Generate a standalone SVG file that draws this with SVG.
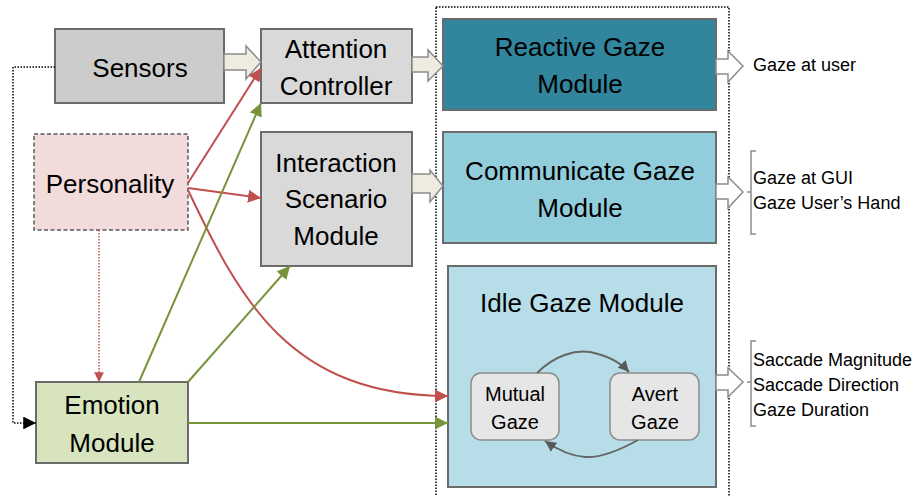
<svg xmlns="http://www.w3.org/2000/svg" width="922" height="496" viewBox="0 0 922 496">
  <defs>
    <style>
      text { font-family: "Liberation Sans", Arial, sans-serif; fill: #000; text-anchor: middle; }
      .big { font-size: 26px; }
      .small { font-size: 20px; }
      .out { font-size: 18px; text-anchor: start; }
      .box { stroke: #6b6b6b; stroke-width: 2; }
      .blk { fill: #eeece1; stroke: #8c8c8c; stroke-width: 1.5; }
      .blkw { fill: #ffffff; stroke: #8c8c8c; stroke-width: 1.5; }
      .red { fill: none; stroke: #c0504d; stroke-width: 2; }
      .green { fill: none; stroke: #77933c; stroke-width: 2; }
      .loop { fill: none; stroke: #666666; stroke-width: 2; }
      .brace { fill: none; stroke: #8c8c8c; stroke-width: 1.5; }
    </style>
    <marker id="ahRed" viewBox="0 0 10 10" refX="10" refY="5" markerWidth="6.5" markerHeight="6.5" orient="auto" markerUnits="strokeWidth">
      <path d="M0,0 L10,5 L0,10 z" fill="#c0504d"/>
    </marker>
    <marker id="ahGreen" viewBox="0 0 10 10" refX="10" refY="5" markerWidth="6.5" markerHeight="6.5" orient="auto" markerUnits="strokeWidth">
      <path d="M0,0 L10,5 L0,10 z" fill="#77933c"/>
    </marker>
    <marker id="ahGrey" viewBox="0 0 10 10" refX="10" refY="5" markerWidth="5.5" markerHeight="5.5" orient="auto" markerUnits="strokeWidth">
      <path d="M0,0 L10,5 L0,10 z" fill="#595959"/>
    </marker>
    <marker id="ahBlack" viewBox="0 0 10 10" refX="10" refY="5" markerWidth="8.5" markerHeight="8.5" orient="auto" markerUnits="strokeWidth">
      <path d="M0,0 L10,5 L0,10 z" fill="#000000"/>
    </marker>
  </defs>

  <rect width="922" height="496" fill="#ffffff"/>

  <!-- dotted frame around the gaze modules -->
  <rect id="gaze-frame" x="436" y="7" width="293" height="500" fill="none" stroke="#000" stroke-width="1.5" stroke-dasharray="1.5 1.5"/>

  <!-- nodes -->
  <g id="sensors">
    <rect class="box" x="55" y="29" width="169" height="74" fill="#cccccc"/>
    <text class="big" x="140" y="77">Sensors</text>
  </g>
  <g id="attention-controller">
    <rect class="box" x="261" y="29" width="151" height="74" fill="#d9d9d9"/>
    <text class="big" x="336" y="58">Attention</text>
    <text class="big" x="336" y="95">Controller</text>
  </g>
  <g id="personality">
    <rect x="34" y="134" width="154" height="96" fill="#f2dcdb" stroke="#595959" stroke-width="1.5" stroke-dasharray="4 2.5"/>
    <text class="big" x="110" y="193">Personality</text>
  </g>
  <g id="interaction-scenario">
    <rect class="box" x="261" y="132" width="151" height="134" fill="#d9d9d9"/>
    <text class="big" x="336" y="172">Interaction</text>
    <text class="big" x="336" y="208">Scenario</text>
    <text class="big" x="336" y="245">Module</text>
  </g>
  <g id="emotion-module">
    <rect class="box" x="36" y="382" width="152" height="81" fill="#d7e4bd"/>
    <text class="big" x="112" y="414">Emotion</text>
    <text class="big" x="112" y="452">Module</text>
  </g>
  <g id="reactive-gaze">
    <rect class="box" x="443" y="19" width="273" height="91" fill="#31859c"/>
    <text class="big" x="580" y="56">Reactive Gaze</text>
    <text class="big" x="580" y="93">Module</text>
  </g>
  <g id="communicate-gaze">
    <rect class="box" x="443" y="132" width="273" height="111" fill="#92cddc"/>
    <text class="big" x="580" y="180">Communicate Gaze</text>
    <text class="big" x="580" y="217">Module</text>
  </g>
  <g id="idle-gaze">
    <rect class="box" x="448" y="266" width="268" height="221" fill="#b7dee8"/>
    <text class="big" x="582" y="312">Idle Gaze Module</text>
  </g>
  <g id="mutual-gaze">
    <rect x="471" y="373" width="88" height="67" rx="10" fill="#e6e6e6" stroke="#8c8c8c" stroke-width="1.5"/>
    <text class="small" x="515" y="401">Mutual</text>
    <text class="small" x="515" y="429">Gaze</text>
  </g>
  <g id="avert-gaze">
    <rect x="610" y="373" width="89" height="67" rx="10" fill="#e6e6e6" stroke="#8c8c8c" stroke-width="1.5"/>
    <text class="small" x="655" y="401">Avert</text>
    <text class="small" x="655" y="429">Gaze</text>
  </g>

  <!-- outputs -->
  <g id="output-reactive">
    <text class="out" x="753" y="71">Gaze at user</text>
  </g>
  <g id="output-communicate">
    <path class="brace" d="M756,151 H751 V234 H756 M751,192 H747"/>
    <text class="out" x="753" y="184">Gaze at GUI</text>
    <text class="out" x="753" y="209">Gaze User’s Hand</text>
  </g>
  <g id="output-idle">
    <path class="brace" d="M756,341 H751 V426 H756 M751,382 H747"/>
    <text class="out" x="753" y="366">Saccade Magnitude</text>
    <text class="out" x="753" y="391">Saccade Direction</text>
    <text class="out" x="753" y="416">Gaze Duration</text>
  </g>

  <!-- connectors -->
  <g id="connectors">
    <!-- block arrows -->
    <path class="blk" d="M224,54 H246 V46 L261,62 L246,79 V70 H224 Z"/>
    <path class="blk" d="M412,57 H428 V50 L443,66 L428,81 V72 H412 Z"/>
    <path class="blk" d="M412,174 H430 V170 L443,186 L430,202 V193 H412 Z"/>
    <path class="blkw" d="M716,59 H728 V51 L743,66 L728,82 V74 H716 Z"/>
    <path class="blkw" d="M716,184 H728 V177 L743,192 L728,208 V199 H716 Z"/>
    <path class="blkw" d="M716,375 H728 V368 L743,382 L728,397 V390 H716 Z"/>

    <!-- sensors to emotion (dotted) -->
    <path d="M55,67 H13 V423 H36" fill="none" stroke="#000" stroke-width="1.5" stroke-dasharray="1.5 1.5" marker-end="url(#ahBlack)"/>

    <!-- personality influences -->
    <path d="M99,230 V382" fill="none" stroke="#c0504d" stroke-width="1.5" stroke-dasharray="1.5 1.5" marker-end="url(#ahRed)"/>
    <path class="red" d="M188,183 L261,68" marker-end="url(#ahRed)"/>
    <path class="red" d="M188,188 L261,198" marker-end="url(#ahRed)"/>
    <path class="red" d="M188,190 C240,300 290,396 448,396" marker-end="url(#ahRed)"/>

    <!-- emotion influences -->
    <path class="green" d="M139,382 Q195,255 261,103" marker-end="url(#ahGreen)"/>
    <path class="green" d="M188,382 L290,266" marker-end="url(#ahGreen)"/>
    <path class="green" d="M188,423 H448" marker-end="url(#ahGreen)"/>

    <!-- idle gaze transitions -->
    <path class="loop" d="M537,373 C555,355 575,350 590,352 C605,355 620,362 629,372" marker-end="url(#ahGrey)"/>
    <path class="loop" d="M638,440 C620,450 600,458 585,457 C570,456 558,450 545,441" marker-end="url(#ahGrey)"/>
  </g>
</svg>
